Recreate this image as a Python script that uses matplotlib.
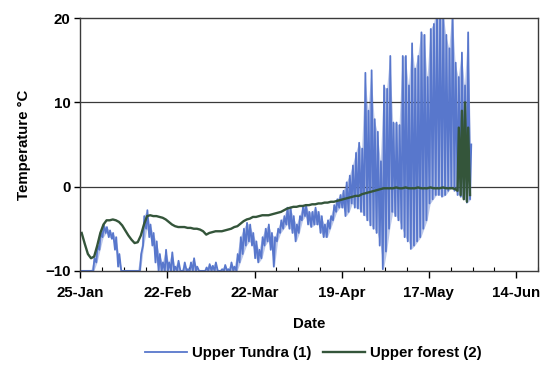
import matplotlib
matplotlib.use("Agg")
import matplotlib.pyplot as plt
import pandas as pd

# day 0 = 25-Jan, one low (night) and one high (day) reading per day
start = pd.Timestamp("2001-01-25")

tundra_low = [
    -10, -10, -10, -10, -10, -9, -7.5, -6, -5.5, -6,
    -6.2, -7.5, -9.5, -10, -10, -10, -10, -10, -10, -10,
    -7, -5, -6, -7, -9, -10, -10, -10, -10, -10,
    -10, -10, -10, -10, -10, -10, -10, -10, -10, -10,
    -10, -10, -10, -10, -10, -10, -10, -10, -10, -10,
    -10, -9, -8, -7, -6.5, -7, -8.5, -9, -8.5, -7,
    -6.5, -7.5, -9.5, -6.5, -5.5, -5, -4.5, -5, -5.5, -6.5,
    -5.5, -4, -3.5, -4.5, -4.8, -4.5, -4.5, -5.5, -6, -6,
    -5, -4, -3, -2.5, -2.5, -3.5, -3, -2, -2.5, -2.6,
    -3, -3.4, -4, -4.6, -5, -5.5, -7, -9.8, -7.7, -5,
    -3, -3.5, -4, -5, -6, -6.5, -7.4, -7, -6.5, -6,
    -5, -4, -2, -1.5, -1, -1, -1.2, -1, -0.5, 0,
    -0.5, -1, -1.2, -1.5, -1.9, -1.5,
]
tundra_high = [
    -10, -10, -10, -10, -8.5, -7, -5.5, -4.5, -4.8, -5.2,
    -5.5, -6, -8, -10, -10, -10, -10, -10, -10, -8,
    -3.5, -2.8, -4.5, -5.5, -6.5, -8, -9, -7.5, -9, -7.8,
    -9.5, -8.8, -10, -9, -9.8, -9, -8.5, -9.5, -10, -10,
    -9.6, -9.2, -9.4, -9, -10, -9.8, -9.3, -9.8, -9, -9.5,
    -8, -6, -5, -4.3, -4.5, -5.5, -6.5, -7.5, -6, -5,
    -4.5, -5.5, -6, -5, -4, -3.5, -2.5, -2.5, -3.5, -4.5,
    -3.5, -2.3, -2.2, -3, -3, -2.5, -3, -3.5, -4.5, -4,
    -3.5, -2.2, -1.5, -1, -0.5, 0.5, 1.3, 2.5, 4, 5.2,
    4.5, 13.5, 9, 13.8, 8, 6.5, 3, 12, 11.6, 15.5,
    7.6, 7.6, 7.3, 15.5, 15.5, 12, 17, 14, 15.5, 18.3,
    18, 13, 18.7, 19.3, 21, 21, 21, 18, 16.4, 21,
    14.7, 13, 15.9, 12, 18.3, 5,
]

# upper forest: daily values, then night/day readings for the last days
forest_daily = [
    -5.5, -6.8, -8.0, -8.5, -8.3, -7.0, -5.5, -4.5, -4.0, -4.0,
    -3.9, -4.0, -4.2, -4.6, -5.2, -5.8, -6.3, -6.7, -6.6, -5.8,
    -4.5, -3.5, -3.4, -3.5, -3.5, -3.6, -3.7, -3.9, -4.2, -4.5,
    -4.7, -4.8, -4.8, -4.8, -4.9, -4.9, -5.0, -5.0, -5.1, -5.3,
    -5.7, -5.5, -5.4, -5.3, -5.3, -5.3, -5.2, -5.1, -5.0, -4.8,
    -4.7, -4.4, -4.1, -3.9, -3.8, -3.6, -3.6, -3.5, -3.4, -3.4,
    -3.4, -3.3, -3.2, -3.1, -3.0, -2.8, -2.6, -2.5, -2.4, -2.4,
    -2.3, -2.3, -2.2, -2.2, -2.1, -2.1, -2.0, -2.0, -1.9, -1.9,
    -1.8, -1.8, -1.7, -1.6, -1.5, -1.4, -1.3, -1.2, -1.1, -1.1,
    -0.9, -0.8, -0.7, -0.6, -0.5, -0.4, -0.3, -0.2, -0.2, -0.2,
    -0.2, -0.1, -0.2, -0.2, -0.1, -0.2, -0.2, -0.2, -0.1, -0.2,
    -0.2, -0.2, -0.1, -0.2, -0.2, -0.2, -0.1, -0.2, -0.2, -0.2,
    -0.3,
]
forest_end = [-0.5, 7, -1, 9, -1.5, 10, -1.8, 7, -1]

tick_labels = ["25-Jan", "22-Feb", "22-Mar", "19-Apr", "17-May", "14-Jun"]

blue = "#5877cc"
green = "#34553a"

plt.rcParams["font.family"] = ["Liberation Sans", "DejaVu Sans"]
plt.rcParams["font.size"] = 10.8
plt.rcParams["font.weight"] = "bold"
plt.rcParams["axes.labelweight"] = "bold"

# interleave night / day readings
n = len(tundra_low)
t_days = [start + pd.Timedelta(days=d + 0.4) for d in range(n)]
t_tundra = []
v_tundra = []
for d in range(n):
    t_tundra += [start + pd.Timedelta(days=d + 0.2), start + pd.Timedelta(days=d + 0.6)]
    v_tundra += [tundra_low[d], tundra_high[d]]

t_forest = [start + pd.Timedelta(days=d + 0.5) for d in range(len(forest_daily))]
d0 = len(forest_daily)
t_forest += [start + pd.Timedelta(days=d0 + 0.2 + 0.4 * (k % 2) + k // 2) for k in range(len(forest_end))]
v_forest = forest_daily + forest_end

fig = plt.figure(figsize=(5.45, 3.92), dpi=100)
ax = fig.add_axes([0.147, 0.309, 0.84, 0.645])

# daily range shaded lightly, the readings drawn on top
ax.fill_between(t_days, tundra_low, tundra_high, color=blue, alpha=0.4, lw=0)
ax.plot(t_tundra, v_tundra, color=blue, lw=1.3, label="Upper Tundra (1)")
ax.plot(t_forest, v_forest, color=green, lw=1.7, label="Upper forest (2)")

for yv in (0, 10):
    ax.axhline(yv, color="#3a3a3a", lw=0.9, zorder=1)

ax.set_ylim(-10, 20)
ax.set_yticks([-10, 0, 10, 20])
ax.set_xlim(start, start + pd.Timedelta(days=147))
major = [start + pd.Timedelta(days=28 * i) for i in range(len(tick_labels))]
ax.set_xticks(major)
ax.set_xticklabels(tick_labels)
ax.set_xticks([start + pd.Timedelta(days=7 * i) for i in range(22)], minor=True)

ax.tick_params(axis="x", which="major", direction="out", length=5, width=1, pad=6)
ax.tick_params(axis="x", which="minor", direction="in", length=3, width=0.8)
ax.tick_params(axis="y", direction="out", length=4, width=1, pad=3)
for s in ax.spines.values():
    s.set_color("#3a3a3a")
    s.set_linewidth(1.0)

ax.set_xlabel("Date", labelpad=12)
ax.set_ylabel("Temperature °C", labelpad=10)

fig.legend(loc="center", bbox_to_anchor=(0.575, 0.1), ncol=2, frameon=False,
           handlelength=2.8, handletextpad=0.3, columnspacing=0.8)

fig.savefig("out.png", dpi=100)
